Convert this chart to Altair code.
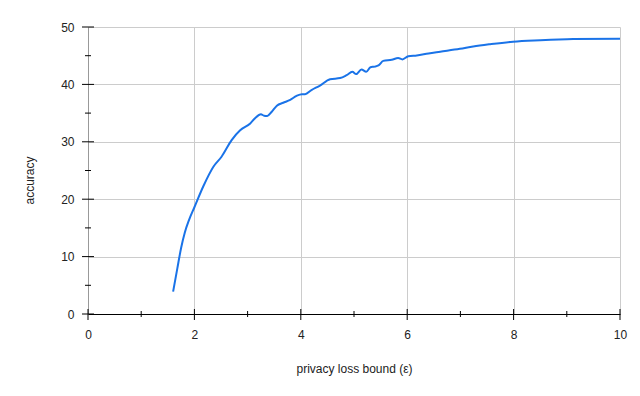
import altair as alt
import pandas as pd

eps = [1.60, 1.68, 1.75, 1.82, 1.90, 2.00, 2.17, 2.36, 2.51, 2.70, 2.86,
       3.05, 3.14, 3.25, 3.31, 3.37, 3.45, 3.55, 3.67, 3.80, 3.92,
       4.02, 4.08, 4.20, 4.36, 4.55, 4.74, 4.86, 4.97, 5.04, 5.14,
       5.23, 5.31, 5.39, 5.46, 5.55, 5.71, 5.83, 5.91, 6.02, 6.18,
       6.40, 6.62, 6.99, 7.24, 7.56, 7.99, 8.50, 9.12, 10.0]
acc = [3.9, 8.0, 11.5, 14.2, 16.4, 18.6, 22.3, 25.7, 27.4, 30.3, 32.0,
       33.2, 34.1, 34.8, 34.55, 34.5, 35.2, 36.3, 36.8, 37.3, 38.0,
       38.3, 38.3, 39.0, 39.8, 40.9, 41.1, 41.6, 42.2, 41.8, 42.6,
       42.2, 43.0, 43.1, 43.3, 44.1, 44.3, 44.6, 44.35, 44.9, 45.05,
       45.4, 45.7, 46.2, 46.6, 47.0, 47.45, 47.7, 47.9, 47.96]

x_major = [0, 2, 4, 6, 8, 10]
x_minor = [1, 3, 5, 7, 9]
y_major = [0, 10, 20, 30, 40, 50]
y_minor = [5, 15, 25, 35, 45]

W, H = 532, 287
FONT = "Liberation Sans"
TXT = "#222222"

xscale = alt.Scale(domain=[0, 10], nice=False, zero=False)
yscale = alt.Scale(domain=[0, 50], nice=False)

xaxis = alt.Axis(values=x_major, ticks=False, labelPadding=15, labelFontSize=12,
                 labelFont=FONT, labelColor=TXT, domainColor="#000000",
                 gridColor="#cccccc", grid=True, labelFlush=False,
                 title="privacy loss bound (ε)", titleFont=FONT, titleFontSize=12,
                 titleFontWeight="normal", titleColor=TXT, titleY=58,
                 titleBaseline="alphabetic")
yaxis = alt.Axis(values=y_major, ticks=False, labelPadding=14, labelFontSize=12,
                 labelFont=FONT, labelColor=TXT, domainColor="#999999",
                 gridColor="#cccccc", grid=True, labelFlush=False,
                 title="accuracy", titleFont=FONT, titleFontSize=12,
                 titleFontWeight="normal", titleColor=TXT, titleAngle=-90,
                 titleX=-59, titleY=153, titleAlign="center", titleBaseline="middle")

xenc = alt.X("eps:Q", scale=xscale, axis=xaxis)
yenc = alt.Y("acc:Q", scale=yscale, axis=yaxis)

df = pd.DataFrame({"eps": eps, "acc": acc})

line = alt.Chart(df).mark_line(color="#1a73e8", strokeWidth=2,
                               interpolate="monotone").encode(x=xenc, y=yenc)

xmaj = alt.Chart(pd.DataFrame({"eps": x_major})).mark_rule(
    color="#000000", strokeWidth=1).encode(
    x=xenc, y=alt.value(H - 5), y2=alt.value(H + 6))
xmin = alt.Chart(pd.DataFrame({"eps": x_minor})).mark_rule(
    color="#000000", strokeWidth=1).encode(
    x=xenc, y=alt.value(H - 3), y2=alt.value(H + 3))
ymaj = alt.Chart(pd.DataFrame({"acc": y_major})).mark_rule(
    color="#000000", strokeWidth=1).encode(
    y=yenc, x=alt.value(-6), x2=alt.value(6))
ymin = alt.Chart(pd.DataFrame({"acc": y_minor})).mark_rule(
    color="#000000", strokeWidth=1).encode(
    y=yenc, x=alt.value(-3), x2=alt.value(3))

chart = alt.layer(line, xmaj, xmin, ymaj, ymin).properties(
    width=W, height=H,
    autosize=alt.AutoSizeParams(type="none"),
    padding={"left": 88, "top": 27, "right": 20, "bottom": 82},
    background="white",
).configure_view(stroke=None)

chart.save("out.html", embed_options={"renderer": "svg", "actions": False})
